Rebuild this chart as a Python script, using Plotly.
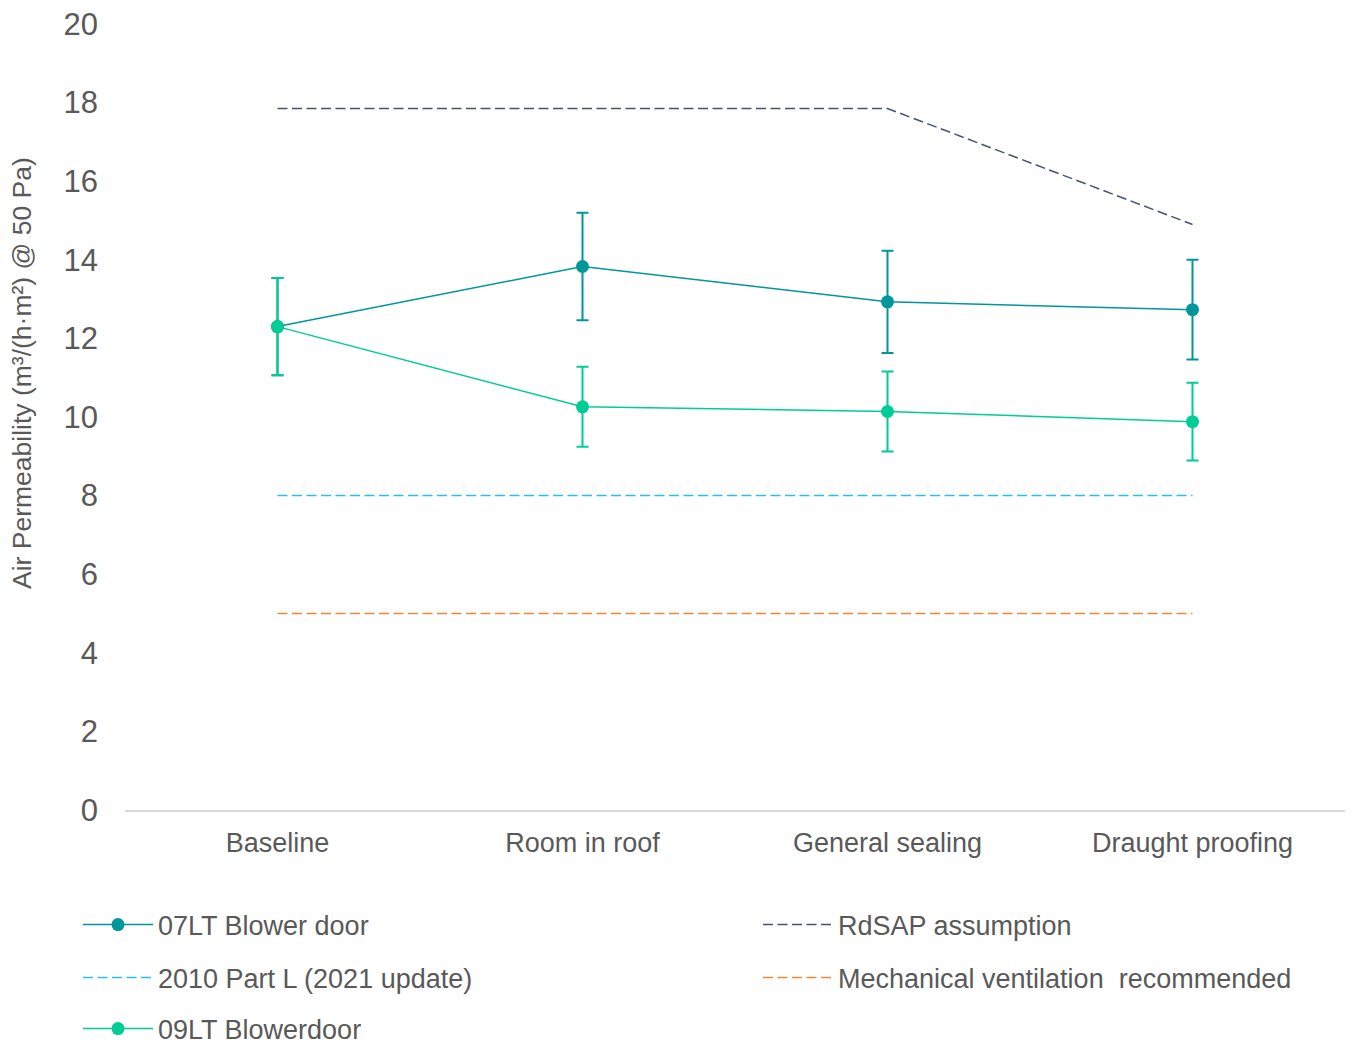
import plotly.graph_objects as go

categories = ["Baseline", "Room in roof", "General sealing", "Draught proofing"]
lt07 = [12.3, 13.83, 12.93, 12.73]
lt07_err = [1.24, 1.37, 1.3, 1.27]
lt09 = [12.3, 10.26, 10.14, 9.88]
lt09_err = [1.24, 1.02, 1.02, 0.99]
rdsap = [17.85, 17.85, 17.85, 14.9]
partl = [8, 8, 8, 8]
mech = [5, 5, 5, 5]
y_ticks = [0, 2, 4, 6, 8, 10, 12, 14, 16, 18, 20]
y_title = "Air Permeability (m³/(h·m²) @ 50 Pa)"

FONT = "Liberation Sans, Arial, sans-serif"
GREY = "#595959"
C07 = "#00979A"
C09 = "#00CC96"
DASH = "10px,4.5px"

fig = go.Figure()

fig.add_trace(go.Scatter(
    x=categories, y=lt07, name="07LT Blower door", mode="lines+markers",
    line=dict(color=C07, width=1.5), marker=dict(color=C07, size=13),
    error_y=dict(type="data", array=lt07_err, color=C07, thickness=2, width=6),
    legend="legend"))
fig.add_trace(go.Scatter(
    x=categories, y=rdsap, name="RdSAP assumption", mode="lines",
    line=dict(color="#44546A", width=1.5, dash=DASH), legend="legend2"))
fig.add_trace(go.Scatter(
    x=categories, y=partl, name="2010 Part L (2021 update)", mode="lines",
    line=dict(color="#2BBCF2", width=1.5, dash=DASH), legend="legend3"))
fig.add_trace(go.Scatter(
    x=categories, y=mech, name="Mechanical ventilation  recommended", mode="lines",
    line=dict(color="#F2873A", width=1.5, dash=DASH), legend="legend4"))
fig.add_trace(go.Scatter(
    x=categories, y=lt09, name="09LT Blowerdoor", mode="lines+markers",
    line=dict(color=C09, width=1.5), marker=dict(color=C09, size=13),
    error_y=dict(type="data", array=lt09_err, color=C09, thickness=2, width=6),
    legend="legend5"))

leg = dict(orientation="h", xanchor="left", yanchor="middle",
           xref="container", yref="container", itemwidth=70,
           font=dict(family=FONT, size=27, color=GREY),
           bgcolor="rgba(0,0,0,0)")
W, H = 1352, 1044
col1, col2 = 78 / W, 758 / W
row1, row2, row3 = 1 - 925 / H, 1 - 978 / H, 1 - 1029 / H

fig.update_layout(
    width=W, height=H,
    showlegend=True,
    margin=dict(l=125, r=7, t=24, b=234, autoexpand=False),
    paper_bgcolor="white", plot_bgcolor="white",
    font=dict(family=FONT, color=GREY),
    legend=dict(leg, x=col1, y=row1),
    legend2=dict(leg, x=col2, y=row1),
    legend3=dict(leg, x=col1, y=row2),
    legend4=dict(leg, x=col2, y=row2),
    legend5=dict(leg, x=col1, y=row3),
    xaxis=dict(range=[-0.5, 3.5], showgrid=False, showline=True,
               linecolor="#D9D9D9", linewidth=1.5, ticks="",
               tickfont=dict(size=27, color=GREY), ticklabelstandoff=8,
               zeroline=False),
    yaxis=dict(range=[0, 20], tickvals=y_ticks, showgrid=False,
               showline=False, zeroline=False, ticks="",
               tickfont=dict(size=31, color=GREY), ticklabelstandoff=26),
    annotations=[dict(text=y_title, textangle=-90, xref="paper", yref="paper",
                      x=(22 - 125) / 1220, y=(810 - 373) / 786,
                      xanchor="center", yanchor="middle", showarrow=False,
                      font=dict(family=FONT, size=26.5, color=GREY))],
)

fig.write_html("out.html")
